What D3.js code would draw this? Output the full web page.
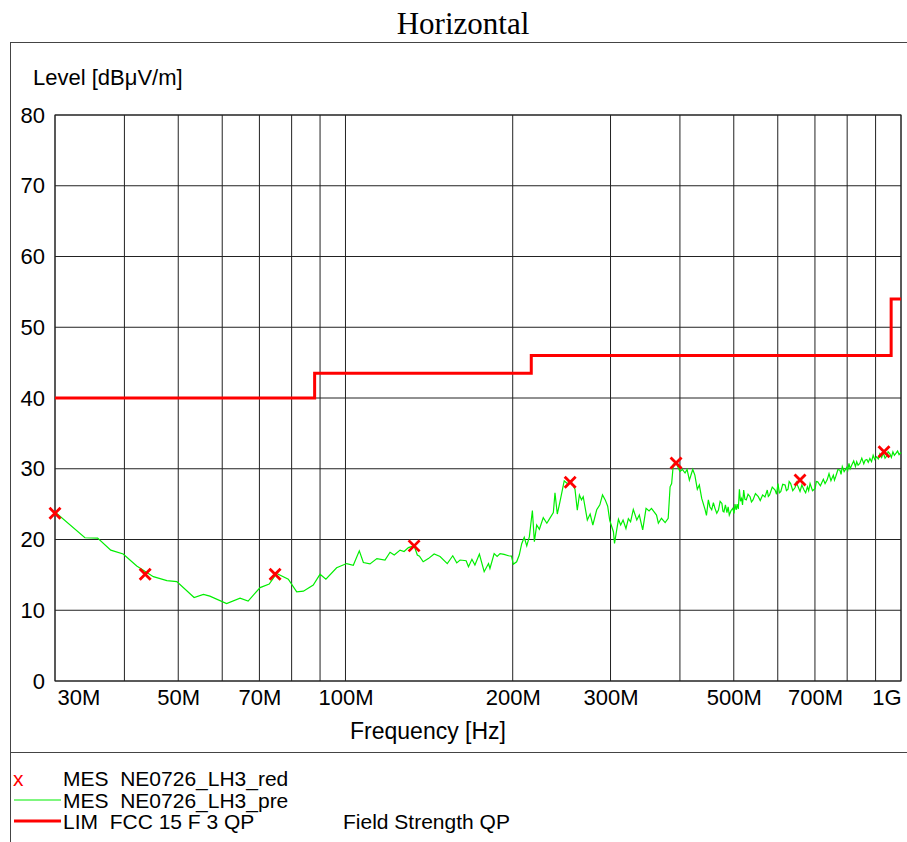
<!DOCTYPE html>
<html>
<head>
<meta charset="utf-8">
<script src="https://cdn.jsdelivr.net/npm/d3@7"></script>
<style>
html,body{margin:0;padding:0;background:#fff;}
svg{display:block;}
text{font-family:"Liberation Sans",Arial,sans-serif;}
</style>
</head>
<body>
<svg id="chart" width="907" height="842"></svg>
<script>
// ---------- DATA ----------
const titleText = "Horizontal";
const yLabel = "Level [dBμV/m]";
const xLabel = "Frequency [Hz]";
const yTicks = [0,10,20,30,40,50,60,70,80];
const xGrid = [30,40,50,60,70,80,90,100,200,300,400,500,600,700,800,900,1000];
const xTickValues = [30,50,70,100,200,300,500,700,1000];
const xTickLabels = ["30M","50M","70M","100M","200M","300M","500M","700M","1G"];

// preview scan (MHz, dBμV/m)
const traceFreq = [30.0,33.96,35.8,37.8,39.8,42.1,45.1,47.7,49.7,53.4,55.5,57.0,61.1,64.6,66.8,70.2,72.9,75.2,78.9,81.7,84.0,87.5,90.0,92.2,96.4,
100.5,103.3,105.9,107.7,110.7,113.9,117.8,120.3,122.4,125.4,127.5,129.8,132.9,134.7,135.9,138,141,144.4,148,152.5,156,158.6,160.8,164.9,166.5,168.9,171,174.2,177.7,180.9,182,185.2,187.5,189.8,193,196.5,199,
200.5,203.3,205.5,207.6,209.8,212,214.3,217,218.8,220.9,223.4,227,230.4,232.5,236.7,238.3,240.6,243.3,247.6,250.5,255.4,258.9,261.4,263.7,266,267.9,272.5,275.7,278.8,283.3,287,290.2,293.5,296.5,299,
303.6,305,307.8,310,312.9,316,319.8,323,326,329.7,334.5,338,342.8,347.6,352,355.5,359.4,363,365.8,370.5,376.2,381,384,386.5,389.2,393.6,400,404,408.6,412,416,421.8,425.5,429.9,433.5,437.8,
443.8,446.5,450,453,456.3,459.5,462.5,466,469.2,472.5,476,478,480,483,486,488.5,490.8,494.5,498,500.5,502.5,505,507,509.5,511.8,514,516.5,518.5,521,523.5,526.5,530.5,534.9,538,541.5,547,553.5,558,563.5,569,574.5,577,580,586.5,593.4,597,
600.5,604,607.5,612.5,618.6,622,626,629,633,638.5,644.7,648,652,658,663,669,673.5,678.5,682,686,693,700.5,704,708,716,724.8,730,736,742,748,755.4,759,763,770,776.4,780,784,790,798.6,
802,806,810,815,822,828,832.2,837,843,850,857,862,868,873,879,885,891,897,904,910,916,923,929,936,942.6,948,955,961,967,973,979.8,986,992,1000];
const traceLevel = [23.9,20.25,20.2,18.5,17.95,16.25,14.75,14.2,14.05,11.8,12.25,12.0,10.95,11.7,11.3,13.2,13.7,15.2,14.4,12.6,12.7,13.55,15.1,14.4,16.0,
16.6,16.35,18.4,16.75,16.55,17.3,17.1,18.2,17.8,18.5,18.3,18.85,19.1,17.8,17.65,16.85,17.3,17.95,17.6,16.6,17.7,16.7,17.1,17.0,16.15,17.2,16.4,17.95,15.45,16.6,15.9,18.0,17.6,18.0,17.9,17.7,17.65,
16.5,16.85,17.8,19.4,20.3,19.1,20.4,24.1,19.7,22.05,21.45,23.1,22.3,22.8,23.8,26.6,23.6,25.35,28.3,27.95,28.05,27.1,24.15,26.3,25.6,26.05,22.75,23.6,22.05,24.2,24.9,26.3,25.6,24.7,22.7,
21.1,19.45,21.35,22.85,22.05,22.75,21.55,22.95,22.5,24.25,22.75,23.45,21.35,24.4,24.05,24.4,23.9,23.45,22.3,23.0,22.4,23.0,27.45,27.9,30.65,30.85,29.6,29.9,29.4,29.9,28.4,29.9,29.1,27.1,27.7,25.8,
24.25,23.4,25.6,24.6,24.2,25.2,24.4,23.7,24.15,25.4,25.1,24.0,23.9,24.9,23.8,24.6,23.45,24.1,24.4,23.7,25.0,24.2,25.0,24.3,27.1,25.4,25.8,24.9,27.0,25.7,25.6,26.4,26.05,25.3,25.6,26.5,26.05,25.5,26.3,26.0,27.0,26.1,26.3,27.4,27.0,26.4,
27.9,26.6,26.75,27.8,27.7,26.9,27.1,28.2,27.9,26.9,27.35,28.1,27.55,26.8,27.7,27.0,26.6,27.45,26.9,27.9,26.9,27.2,28.2,28.15,27.6,28.5,27.9,28.4,29.3,28.3,29.1,28.4,28.9,29.9,29.8,29.2,30.3,29.6,30.2,
29.8,30.75,30.0,30.5,31.1,30.3,31.0,30.5,30.75,31.5,30.7,31.2,31.3,30.9,31.45,31.0,31.9,31.3,31.7,31.4,32.1,31.6,32.3,31.5,31.8,32.4,32.1,31.6,32.4,31.9,32.2,32.5,32.0,32.3];

// final measurement markers
const markerFreq = [30.0,43.6,74.7,132.9,253.8,393.6,658,932];
const markerLevel = [23.7,15.1,15.1,19.1,28.1,30.8,28.4,32.4];

// FCC 15 class B 3 m QP limit
const limitFreq = [30,88,216,960,1000];
const limitLevel = [40,43.5,46,54,54];

const legendItems = [
  {kind:"x", label:"MES  NE0726_LH3_red", extra:""},
  {kind:"green", label:"MES  NE0726_LH3_pre", extra:""},
  {kind:"red", label:"LIM  FCC 15 F 3 QP", extra:"Field Strength QP"}
];

// ---------- DRAW ----------
const svg = d3.select("#chart");
const W = 907, H = 842;
const plot = {left:55, right:901, top:115, bottom:681};
const x = d3.scaleLog().domain([30,1000]).range([plot.left, plot.right]);
const y = d3.scaleLinear().domain([0,80]).range([plot.bottom, plot.top]);
const frameColor = "#444";

// title
svg.append("text").attr("x", 463).attr("y", 34).attr("text-anchor","middle")
  .style("font-family","'Liberation Serif','Times New Roman',serif").style("font-size","31px")
  .text(titleText);

// outer frame
svg.append("line").attr("x1",10).attr("x2",W).attr("y1",42.5).attr("y2",42.5).attr("stroke",frameColor);
svg.append("line").attr("x1",10.5).attr("x2",10.5).attr("y1",42).attr("y2",H).attr("stroke",frameColor);
svg.append("line").attr("x1",10).attr("x2",W).attr("y1",752.5).attr("y2",752.5).attr("stroke",frameColor);

// y label
svg.append("text").attr("x",33).attr("y",85).style("font-size","22px").text(yLabel);

// grid
const g = svg.append("g");
g.selectAll(".vg").data(xGrid).join("line")
  .attr("x1",d=>x(d)).attr("x2",d=>x(d)).attr("y1",plot.top).attr("y2",plot.bottom)
  .attr("stroke","#222").attr("stroke-width",1);
g.selectAll(".hg").data(yTicks).join("line")
  .attr("x1",plot.left).attr("x2",plot.right).attr("y1",d=>y(d)).attr("y2",d=>y(d))
  .attr("stroke","#222").attr("stroke-width",1);
g.append("rect").attr("x",plot.left).attr("y",plot.top)
  .attr("width",plot.right-plot.left).attr("height",plot.bottom-plot.top)
  .attr("fill","none").attr("stroke","#222");

// y axis labels
const yAxis = d3.axisLeft(y).tickValues(yTicks).tickSize(0).tickPadding(10).tickFormat(d3.format("d"));
const ya = svg.append("g").attr("transform",`translate(${plot.left},0)`).call(yAxis);
ya.select(".domain").remove();
ya.selectAll("text").style("font-size","22px").style("font-family","'Liberation Sans',Arial,sans-serif").attr("fill","#000");

// x axis labels
const xAxis = d3.axisBottom(x).tickValues(xTickValues).tickSize(0).tickPadding(8)
  .tickFormat((d,i)=>xTickLabels[i]);
const xa = svg.append("g").attr("transform",`translate(0,${plot.bottom})`).call(xAxis);
xa.select(".domain").remove();
xa.selectAll("text").style("font-size","22px").style("font-family","'Liberation Sans',Arial,sans-serif").attr("fill","#000")
  .attr("text-anchor",(d,i)=> i===0 ? "start" : (i===xTickValues.length-1 ? "end" : "middle"))
  .attr("dx",(d,i)=> i===0 ? "2" : 0);

svg.append("text").attr("x",428).attr("y",739).attr("text-anchor","middle").style("font-size","23px").text(xLabel);

// clip
svg.append("clipPath").attr("id","clip").append("rect")
  .attr("x",plot.left).attr("y",plot.top-10).attr("width",plot.right-plot.left+2).attr("height",plot.bottom-plot.top+10);

// limit line
const limData = limitFreq.map((f,i)=>[f,limitLevel[i]]);
svg.append("path").datum(limData)
  .attr("d", d3.line().x(d=>x(d[0])).y(d=>y(d[1])).curve(d3.curveStepAfter))
  .attr("fill","none").attr("stroke","#ff0000").attr("stroke-width",3);

// trace
const trData = traceFreq.map((f,i)=>[f,traceLevel[i]]);
svg.append("path").datum(trData).attr("clip-path","url(#clip)")
  .attr("d", d3.line().x(d=>x(d[0])).y(d=>y(d[1])))
  .attr("fill","none").attr("stroke","#00ee00").attr("stroke-width",1.2);

// markers
const mk = svg.append("g");
markerFreq.forEach((f,i)=>{
  const cx = x(f), cy = y(markerLevel[i]), s = 5.5;
  mk.append("path").attr("d",`M${cx-s},${cy-s}L${cx+s},${cy+s}M${cx-s},${cy+s}L${cx+s},${cy-s}`)
    .attr("stroke","#ff0000").attr("stroke-width",2.8).attr("fill","none");
});

// legend
const legY = [786, 808, 829];
legendItems.forEach((it,i)=>{
  const by = legY[i];
  if(it.kind==="x"){
    svg.append("text").attr("x",13).attr("y",by).style("font-size","21px").attr("fill","#ff0000").text("x");
  } else if(it.kind==="green"){
    svg.append("line").attr("x1",14).attr("x2",61).attr("y1",by-8).attr("y2",by-8).attr("stroke","#00ee00").attr("stroke-width",1.2);
  } else {
    svg.append("line").attr("x1",14).attr("x2",61).attr("y1",by-8).attr("y2",by-8).attr("stroke","#ff0000").attr("stroke-width",3);
  }
  svg.append("text").attr("x",63).attr("y",by).style("font-size","21px").style("white-space","pre")
    .attr("xml:space","preserve").text(it.label);
  if(it.extra) svg.append("text").attr("x",343).attr("y",by).style("font-size","21px").text(it.extra);
});
</script>
</body>
</html>
